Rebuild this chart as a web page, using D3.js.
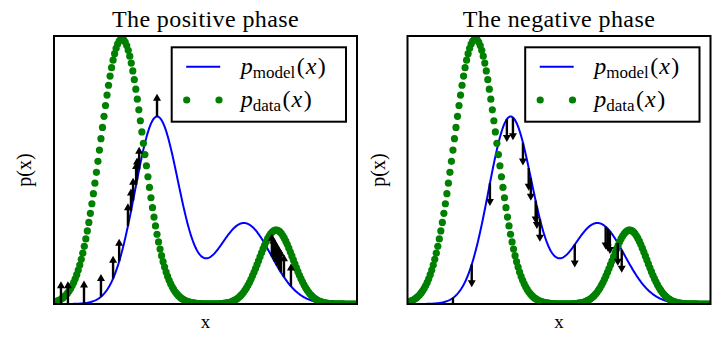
<!DOCTYPE html>
<html><head><meta charset="utf-8">
<script src="https://cdn.jsdelivr.net/npm/d3@7"></script>
<style>body{margin:0;background:#fff}</style>
</head><body>
<svg id="c" width="727" height="343"></svg>
<script>
// ---- data ----
const xDomain = [0, 10];
const yDomain = [0, 1];
const dataMeans = [2.24, 7.33];
const dataSigmas = [0.71, 0.56];
const dataPeaks = [0.989, 0.276];
const modelMeans = [3.40, 6.27];
const modelSigmas = [0.726, 0.89];
const modelPeaks = [0.698, 0.302];
const posArrowX = [0.23, 0.46, 0.99, 1.55, 1.95, 2.15, 2.44, 2.54, 2.61, 2.71, 2.74, 2.81, 3.40, 7.19, 7.24, 7.29, 7.36, 7.43, 7.49, 7.59, 7.82];
const negArrowX = [1.50, 2.12, 2.72, 3.28, 3.48, 3.81, 4.00, 4.07, 4.23, 4.27, 4.37, 5.52, 6.54, 6.61, 6.68, 6.94, 7.07];
const panelTitles = ["The positive phase", "The negative phase"];
const arrowDirections = [1, -1];
const arrowLength = 0.085;
const dataStep = 0.05, modelStep = 0.02;

// ---- densities ----
function mixture(x, means, sigmas, peaks) {
  let s = 0;
  for (let i = 0; i < means.length; i++) {
    const z = (x - means[i]) / sigmas[i];
    s += peaks[i] * Math.exp(-0.5 * z * z);
  }
  return s;
}
const pData = x => mixture(x, dataMeans, dataSigmas, dataPeaks);
const pModel = x => mixture(x, modelMeans, modelSigmas, modelPeaks);
const dataX = d3.range(xDomain[0], xDomain[1] + 1e-9, dataStep);
const modelX = d3.range(xDomain[0], xDomain[1] + 1e-9, modelStep);

// ---- layout ----
const svg = d3.select("#c");
const panels = [{x0: 54, x1: 357}, {x0: 407.5, x1: 710.5}];
const frameTop = 36, frameBottom = 304;
const serif = "'Liberation Serif', 'Times New Roman', serif";

panels.forEach((p, pi) => {
  const x = d3.scaleLinear().domain(xDomain).range([p.x0, p.x1]);
  const y = d3.scaleLinear().domain(yDomain).range([frameBottom, frameTop]);
  const g = svg.append("g");
  const clipId = "clip" + pi;
  svg.append("clipPath").attr("id", clipId).append("rect")
    .attr("x", p.x0).attr("y", frameTop).attr("width", p.x1 - p.x0).attr("height", frameBottom - frameTop);
  const inner = g.append("g").attr("clip-path", `url(#${clipId})`);

  // model line
  inner.append("path")
    .datum(modelX)
    .attr("d", d3.line().x(d => x(d)).y(d => y(pModel(d))))
    .attr("fill", "none").attr("stroke", "#0000ff").attr("stroke-width", 2);

  // data dots
  inner.selectAll("circle.d").data(dataX).join("circle")
    .attr("cx", d => x(d)).attr("cy", d => y(pData(d))).attr("r", 3.6)
    .attr("fill", "#008000");

  // arrows
  const dir = arrowDirections[pi];
  const ax = pi === 0 ? posArrowX : negArrowX;
  const headLen = 7, headW = 4, shaftW = 1.2;
  inner.selectAll("path.a").data(ax).join("path")
    .attr("d", d => {
      const px = x(d), y0 = y(pModel(d));
      const y1 = y(pModel(d) + dir * arrowLength);
      const s = dir > 0 ? 1 : -1;
      const yb = y1 + s * headLen;
      return `M${px - shaftW},${y0} L${px - shaftW},${yb} L${px - headW},${yb} L${px},${y1} L${px + headW},${yb} L${px + shaftW},${yb} L${px + shaftW},${y0} Z`;
    })
    .attr("fill", "#000");

  // frame
  g.append("rect").attr("x", p.x0).attr("y", frameTop).attr("width", p.x1 - p.x0).attr("height", frameBottom - frameTop)
    .attr("fill", "none").attr("stroke", "#000").attr("stroke-width", 2);

  // title
  g.append("text").attr("x", (p.x0 + p.x1) / 2).attr("y", 26.5).attr("text-anchor", "middle")
    .attr("font-family", serif).attr("font-size", 24).attr("letter-spacing", 0.4).text(panelTitles[pi]);

  // axis labels
  g.append("text").attr("x", (p.x0 + p.x1) / 2).attr("y", 328).attr("text-anchor", "middle")
    .attr("font-family", serif).attr("font-size", 19).text("x");
  g.append("text").attr("transform", `translate(${p.x0 - 23},${(frameTop + frameBottom) / 2}) rotate(-90)`)
    .attr("text-anchor", "middle").attr("font-family", serif).attr("font-size", 20).text("p(x)");

  // legend
  const lx = p.x0 + 117.7, ly = 47.3, lw = 174.3, lh = 74.4;
  g.append("rect").attr("x", lx).attr("y", ly).attr("width", lw).attr("height", lh)
    .attr("fill", "#fff").attr("stroke", "#000").attr("stroke-width", 2);
  g.append("line").attr("x1", lx + 14.5).attr("x2", lx + 48.5).attr("y1", 66.7).attr("y2", 66.7)
    .attr("stroke", "#0000ff").attr("stroke-width", 2);
  [lx + 15, lx + 47.3].forEach(cx => g.append("circle").attr("cx", cx).attr("cy", 100).attr("r", 3.6).attr("fill", "#008000"));
  [["model", 74], ["data", 107]].forEach(([sub, by]) => {
    const t = g.append("text").attr("x", lx + 69).attr("y", by).attr("font-family", serif).attr("font-size", 24);
    t.append("tspan").attr("font-style", "italic").text("p");
    t.append("tspan").attr("font-size", 17).attr("dy", 4).text(sub);
    t.append("tspan").attr("dy", -4).attr("dx", 1.5).text("(");
    t.append("tspan").attr("font-style", "italic").attr("dx", 1).text("x");
    t.append("tspan").attr("dx", 1.5).text(")");
  });
});
</script>
</body></html>
